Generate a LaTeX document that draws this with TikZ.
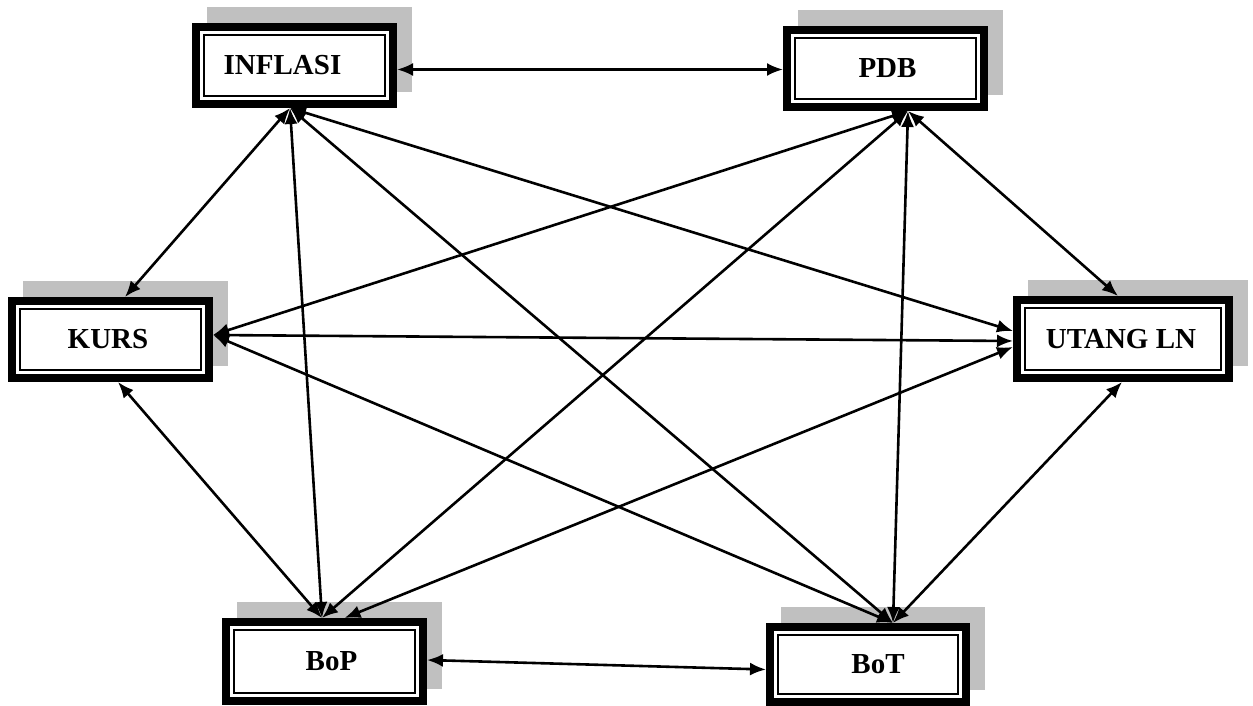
\documentclass[tikz,border=0pt]{standalone}
\usepackage{fontspec}
\setmainfont{Liberation Serif}
\usetikzlibrary{arrows.meta,backgrounds}
\definecolor{shadowgray}{RGB}{192,192,192}
\begin{document}
\begin{tikzpicture}[x=1pt,y=-1pt,
  box/.style={draw=black, line width=8pt, fill=white, minimum width=197pt, minimum height=77pt, inner sep=0pt,
    font=\fontsize{29}{33}\selectfont\bfseries,
    path picture={\draw[line width=2pt] ([xshift=8pt,yshift=8pt]path picture bounding box.south west) rectangle ([xshift=-8pt,yshift=-8pt]path picture bounding box.north east);}},
  link/.style={line width=2.6pt, {Latex[length=16pt,width=13pt]}-{Latex[length=16pt,width=13pt]}}]
\useasboundingbox (0,0) rectangle (1253,706);

\node[box] (inflasi) at (294.5,65.5) {INFLASI\hspace*{24pt}};
\node[box] (pdb) at (885.5,68.5) {\hspace*{4pt}PDB};
\node[box] (kurs) at (110.5,339.5) {KURS\hspace*{5pt}};
\node[box, minimum width=212pt, minimum height=78pt] (utang) at (1123,339) {UTANG LN\hspace*{4pt}};
\node[box, minimum height=79pt] (bop) at (324.5,661.5) {\hspace*{14pt}BoP};
\node[box, minimum width=196pt, minimum height=75pt] (bot) at (868,664.5) {\hspace*{20pt}BoT};

\begin{scope}[on background layer]
\fill[white] (0,0) rectangle (1253,706);
\foreach \n in {inflasi,pdb,kurs,utang,bop,bot}
  \fill[shadowgray] ([xshift=15pt,yshift=16pt]\n.south west) rectangle ([xshift=15pt,yshift=16pt]\n.north east);
\end{scope}

\draw[link] ([yshift=-4pt]inflasi.east) -- ([yshift=-1pt]pdb.west);
\draw[link] ([xshift=-4.5pt]inflasi.south) -- ([xshift=14.5pt]kurs.north);
\draw[link] ([xshift=-4.5pt]inflasi.south) -- ([xshift=-2.5pt]bop.north);
\draw[link] ([xshift=-4.5pt]inflasi.south) -- ([xshift=25pt]bot.north);
\draw[link] ([xshift=-4.5pt]inflasi.south) -- ([yshift=8pt]utang.west);
\draw[link] ([xshift=22.5pt]pdb.south) -- ([yshift=4.5pt]kurs.east);
\draw[link] ([xshift=22.5pt]pdb.south) -- ([xshift=-2.5pt]bop.north);
\draw[link] ([xshift=22.5pt]pdb.south) -- ([xshift=25pt]bot.north);
\draw[link] ([xshift=22.5pt]pdb.south) -- ([xshift=-5pt]utang.north);
\draw[link] ([yshift=4.5pt]kurs.east) -- ([yshift=-2pt]utang.west);
\draw[link] ([yshift=4.5pt]kurs.east) -- ([xshift=25pt]bot.north);
\draw[link] ([xshift=7.5pt]kurs.south) -- ([xshift=-2.5pt]bop.north);
\draw[link] ([xshift=20pt]bop.north) -- ([yshift=-8pt]utang.west);
\draw[link] ([xshift=25pt]bot.north) -- ([xshift=-1pt]utang.south);
\draw[link] ([yshift=1.5pt]bop.east) -- ([yshift=-5pt]bot.west);
\end{tikzpicture}
\end{document}
